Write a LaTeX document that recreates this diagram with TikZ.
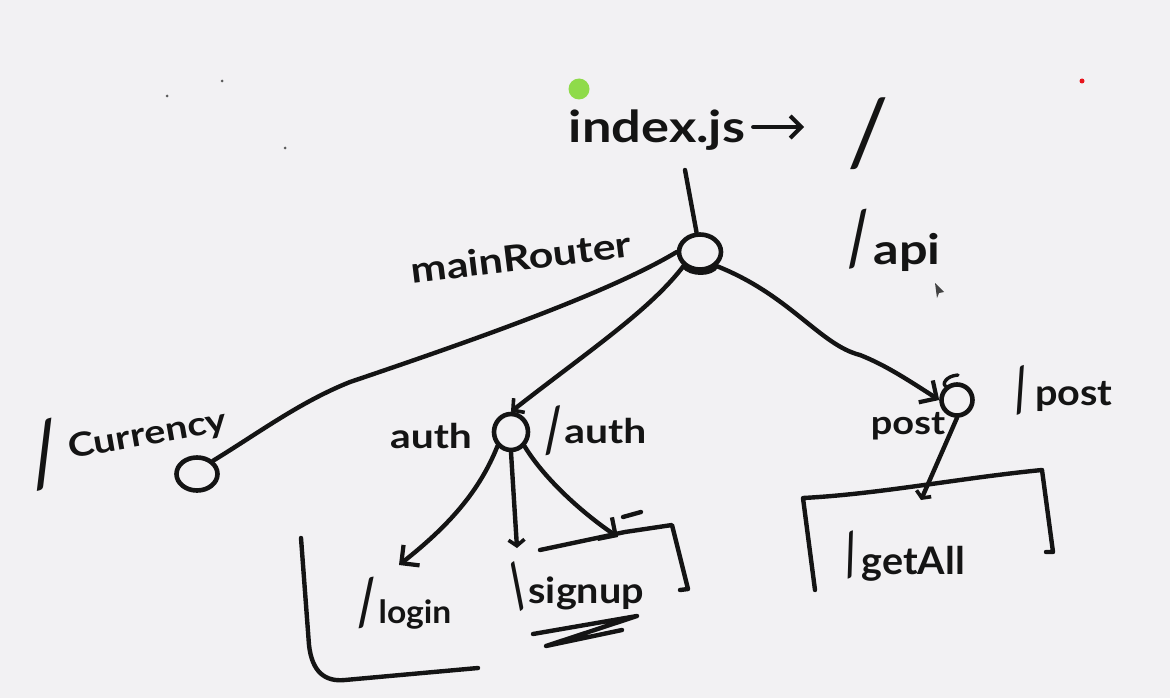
\documentclass[tikz,border=0pt]{standalone}
\usepackage{fontspec}
\usepackage{graphicx}
\setmainfont{Lato}
\usetikzlibrary{arrows.meta,shapes.geometric}
\definecolor{paper}{HTML}{F2F1F3}
\definecolor{ink}{HTML}{141414}
\definecolor{dotgreen}{HTML}{8FDB4A}
\definecolor{dotred}{HTML}{E8141C}
\newcommand{\hand}[1]{\fontsize{#1}{#1}\selectfont}
\newcommand{\bigslash}[2]{\rotatebox[origin=c]{#2}{\mdseries\hand{#1}/}}
% size, horizontal stretch, raise, text
\newcommand{\wide}[4]{\raisebox{#3}{\scalebox{#2}[1]{\hand{#1}#4}}}
\tikzset{
  stroke/.style={draw=ink,line width=4.4pt,line cap=round,line join=round},
  barb/.style={-{Straight Barb[length=13pt,width=26pt,line width=4.2pt]}},
  word/.style={text=ink,inner sep=0pt,font=\bfseries},
  ring/.style={ellipse,draw=ink,line width=4.6pt,fill=none,inner sep=0pt},
  speck/.style={circle,fill=#1,inner sep=0pt},
}
\begin{document}
\begin{tikzpicture}[x=1pt,y=-1pt]
\useasboundingbox (0,0) rectangle (1170,698);
\fill[paper] (0,0) rectangle (1170,698);

% specks and dots
\node[speck=ink!70,minimum size=3pt] (s1) at (167,96) {};
\node[speck=ink!70,minimum size=3pt] (s2) at (222,81) {};
\node[speck=ink!70,minimum size=3pt] (s3) at (285,148) {};
\node[speck=dotred,minimum size=5pt] (red) at (1082,81) {};
\node[speck=dotgreen,minimum size=21pt] (green) at (579,89) {};
\fill[ink!80] (935,283) -- (944,292) -- (939,293) -- (937,298) -- cycle;

% words
\node[word] (index) at (657,130) {\wide{44}{1.19}{0pt}{index.js}};
\node[word] (slashroot) at (868,134) {\bigslash{92}{0}};
\node[word,rotate=7] (mainrouter) at (521,257) {\wide{36}{1.19}{0pt}{mainRouter}};
\node[word] (api) at (889,240) {\bigslash{72}{10}\hspace{-6pt}\wide{42}{1.2}{0pt}{api}};
\node[word,rotate=10] (currency) at (125,441) {\bigslash{86}{5}\hspace{2pt}\wide{33}{1.2}{22pt}{Currency}};
\node[word] (authl) at (431,436) {\wide{34}{1.2}{0pt}{auth}};
\node[word] (authr) at (591,431) {\bigslash{60}{10}\hspace{-6pt}\wide{34}{1.2}{8pt}{auth}};
\node[word] (post) at (908,426) {\wide{33}{1.15}{0pt}{post}};
\node[word] (postr) at (1057,390) {\bigslash{58}{18}\hspace{-5pt}\wide{36}{1.1}{5pt}{post}};
\node[word] (login) at (400,603) {\bigslash{62}{10}\hspace{-6pt}\wide{32}{1.05}{0pt}{login}};
\node[word] (signup) at (569,587) {\bigslash{58}{33}\hspace{-12pt}\wide{36}{1.1}{4pt}{signup}};
\node[word] (getall) at (898,556) {\bigslash{56}{20}\hspace{-8pt}\wide{38}{1.04}{0pt}{getAll}};

% nodes of the tree
\node[ring,minimum width=42pt,minimum height=35pt] (main) at (700,252) {};
\node[ring,minimum width=34pt,minimum height=36pt] (auth) at (511,432) {};
\node[ring,minimum width=31pt,minimum height=31pt] (postn) at (957,400) {};
\node[ring,minimum width=41pt,minimum height=33pt] (cur) at (197,474) {};

% free ends
\coordinate (indexfoot) at (685,170);
\coordinate (arrowend) at (804,127);
\coordinate (logintip) at (399,565);
\coordinate (signuptip) at (517,548);
\coordinate (dashtip) at (618,537);
\coordinate (gettip) at (921,500);

% connectors
\draw[stroke] (indexfoot) -- (main.100);
\draw[stroke,-{Straight Barb[length=11pt,width=22pt,line width=4pt]}] (index.east) ++(8,-3) -- (arrowend);
\draw[stroke] (main.west) .. controls (610,292) and (480,338) .. (350,382) .. controls (300,402) and (260,432) .. (cur.north east);
\draw[stroke,-{Straight Barb[length=8pt,width=18pt,line width=3.6pt]}] (main.south west) .. controls (650,310) and (590,350) .. (auth.north);
\draw[stroke,barb] (main.south east) .. controls (790,295) and (820,345) .. (860,355) .. controls (885,365) and (905,378) .. (postn.west);
\draw[stroke,barb] (auth.south west) .. controls (480,490) and (450,525) .. (logintip);
\draw[stroke,-{Straight Barb[length=6pt,width=16pt,line width=3.6pt]}] (auth.south) -- (signuptip);
\draw[stroke,barb] (auth.south east) .. controls (545,480) and (585,515) .. (dashtip);
\draw[stroke,-{Straight Barb[length=5pt,width=16pt,line width=3.6pt]}] (postn.south) -- (gettip);

% doubled strokes on the rings
\draw[stroke] (main.south west) .. controls (690,275) and (712,275) .. (main.south east);
\draw[stroke,line width=3.4pt] (postn.130) .. controls (942,385) and (945,376) .. (958,375);

% brackets
\coordinate (b1a) at (301,538);
\coordinate (b1b) at (478,668);
\draw[stroke] (b1a) -- (309,645) .. controls (312,672) and (325,682) .. (345,680) -- (b1b);
\coordinate (b2a) at (540,550);
\coordinate (b2b) at (680,590);
\draw[stroke] (b2a) -- (625,532) -- (672,525) -- (688,589) -- (b2b);
\coordinate (b3a) at (815,590);
\coordinate (b3b) at (1046,552);
\draw[stroke] (b3a) -- (803,498) .. controls (880,494) and (960,478) .. (1042,470) -- (1053,552) -- (b3b);
\coordinate (d1) at (623,517);
\coordinate (d2) at (641,512);
\draw[stroke] (d1) -- (d2);
% underline scribble
\coordinate (u1) at (533,634);
\draw[stroke] (u1) -- (637,616) -- (546,646) -- (622,630);
\end{tikzpicture}
\end{document}
